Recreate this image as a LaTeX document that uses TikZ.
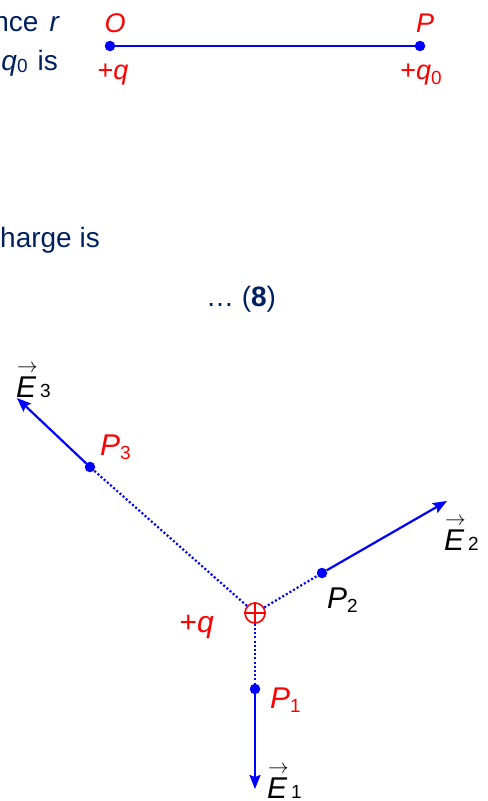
\documentclass[tikz,border=0pt]{standalone}
\usepackage{fontspec}
\setmainfont{Liberation Sans}
\usetikzlibrary{arrows.meta}
\definecolor{navy}{RGB}{0,32,96}
\definecolor{qred}{RGB}{255,0,0}
\definecolor{vblue}{RGB}{0,0,255}
\newcommand\subs[2][-4bp]{\raisebox{#1}{\fontsize{19bp}{19bp}\selectfont\upshape #2}}
\newcommand\vecE[1]{\makebox[0pt][l]{\raisebox{25bp}{\hspace{1bp}$\scriptstyle\rightarrow$}}\textit{E}\hspace{4bp}{\fontsize{19bp}{19bp}\selectfont\upshape #1}}
\begin{document}
\begin{tikzpicture}[x=1bp,y=-1bp,
  body/.style={text=navy, inner sep=0pt, font=\fontsize{28bp}{31bp}\selectfont},
  lbl/.style={text=qred, inner sep=0pt, font=\fontsize{27bp}{30bp}\selectfont\itshape},
  big/.style={inner sep=0pt, font=\fontsize{30bp}{33bp}\selectfont\itshape},
  dot/.style={circle, fill=vblue, inner sep=0pt, minimum size=10.5bp},
  field/.style={draw=vblue, line width=2.2bp, -{Stealth[length=14bp,width=11bp,inset=2bp]}},
  dotline/.style={draw=vblue, line width=2.2bp, dash pattern=on 2bp off 2.2bp},
]
\useasboundingbox (0,0) rectangle (488,801);

% text fragments
\node[body, anchor=base east] (t1) at (60,32) {nce\hspace{11bp}\textit{r}};
\node[body, anchor=base east] (t2) at (58,71) {\textit{q}\subs[-2bp]{0}\hspace{10bp}is};
\node[body, anchor=base east] (t3) at (100,247) {harge is};
\node[body, anchor=base] (t4) at (241,306) {… (\textbf{8})};

% top line O--P
\node[dot] (O) at (110,46) {};
\node[dot] (P) at (420,46) {};
\draw[vblue, line width=1.6bp] (O) -- (P);
\node[lbl, anchor=base] (lO) at (115,33) {O};
\node[lbl, anchor=base] (lP) at (425,33) {P};
\node[lbl, anchor=base] (lq) at (113,80) {{\upshape+}q};
\node[lbl, anchor=base] (lq0) at (421,80) {{\upshape+}q\subs[-4bp]{0}};

% charge and field points
\node[circle, draw=qred, line width=1.6bp, minimum size=20bp, inner sep=0pt] (q) at (255,613) {};
\draw[qred, line width=1.6bp] (q.north) -- (q.south) (q.west) -- (q.east);
\node[dot] (p1) at (255,689) {};
\node[dot] (p2) at (322,573) {};
\node[dot] (p3) at (90,467) {};
\coordinate (e1) at (255,789);
\coordinate (e2) at (447,501);
\coordinate (e3) at (17,398);

\draw[dotline] (q) -- (p1);
\draw[dotline] (q) -- (p2);
\draw[dotline] (q) -- (p3);
\draw[field] (p1) -- (e1);
\draw[field] (p2) -- (e2);
\draw[field] (p3) -- (e3);

% labels
\node[big, text=qred, anchor=base west] (lp3) at (100,455) {P\subs{3}};
\node[big, anchor=base west] (lp2) at (327,608) {P\subs{2}};
\node[big, text=qred, anchor=base west] (lp1) at (270,708) {P\subs{1}};
\node[big, text=qred, anchor=base east] (lcq) at (214,632) {{\upshape+}q};
\node[big, anchor=base west] (le3) at (16,397) {\vecE{3}};
\node[big, anchor=base west] (le2) at (444,550) {\vecE{2}};
\node[big, anchor=base west] (le1) at (267,798) {\vecE{1}};
\end{tikzpicture}
\end{document}
